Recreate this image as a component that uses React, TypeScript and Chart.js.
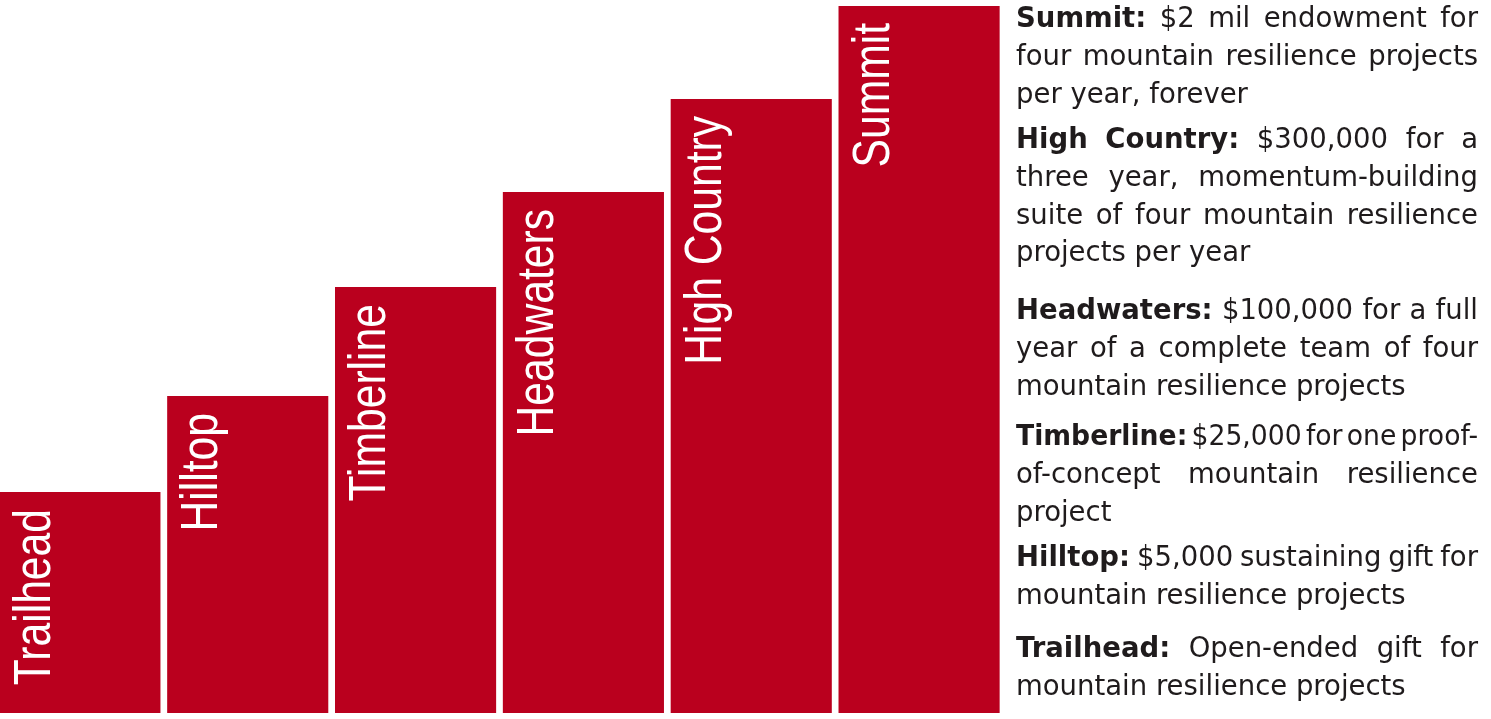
import React, { useEffect, useRef } from 'react';
import { Chart, registerables } from 'chart.js';

Chart.register(...registerables);

// ---- data ----
const tierNames = ['Trailhead', 'Hilltop', 'Timberline', 'Headwaters', 'High Country', 'Summit'];
const tierHeights = [22.1, 31.7, 42.6, 52.1, 61.4, 70.7];
const axisMax = 70.7;

const trailheadLines = ['Open-ended gift for', 'mountain resilience projects'];
const hilltopLines = ['$5,000 sustaining gift for', 'mountain resilience projects'];
const timberlineLines = ['$25,000 for one proof-', 'of-concept mountain resilience', 'project'];
const headwatersLines = ['$100,000 for a full', 'year of a complete team of four', 'mountain resilience projects'];
const highCountryLines = ['$300,000 for a', 'three year, momentum-building', 'suite of four mountain resilience', 'projects per year'];
const summitLines = ['$2 mil endowment for', 'four mountain resilience projects', 'per year, forever'];
const tierDescriptions = [trailheadLines, hilltopLines, timberlineLines, headwatersLines, highCountryLines, summitLines];

// ---- layout / style ----
const W = 1491;
const H = 719;
const BAR_COLOR = '#BA001E';
const TEXT_COLOR = '#1F1B1C';
const BAR_FONT = "52px 'Liberation Sans', Arial, sans-serif";
const BAR_FONT_SQUEEZE = 0.82;
const DESC_SIZE = 27.5;
const DESC_FAMILY = "'DejaVu Sans', 'Noto Sans', sans-serif";
const paragraphBaselines = [657, 566, 445, 319, 148, 27];
const LINE_H = 37.8;
const TEXT_LEFT = 1016;
const TEXT_RIGHT = 1478;

type Word = { text: string; bold: boolean };

function fontFor(bold: boolean) {
  return `${bold ? 'bold ' : ''}${DESC_SIZE}px ${DESC_FAMILY}`;
}

function drawLine(ctx: CanvasRenderingContext2D, words: Word[], y: number, justify: boolean) {
  const widths = words.map((w) => {
    ctx.font = fontFor(w.bold);
    return ctx.measureText(w.text).width;
  });
  ctx.font = fontFor(false);
  const space = ctx.measureText(' ').width;
  const sum = widths.reduce((a, b) => a + b, 0);
  const n = words.length;
  const avail = TEXT_RIGHT - TEXT_LEFT;
  let gap = space;
  let scale = 1;
  if (justify && n > 1) {
    gap = (avail - sum) / (n - 1);
    const minGap = space * 0.5;
    if (gap < minGap) {
      gap = minGap;
      scale = avail / (sum + gap * (n - 1));
    }
  }
  ctx.save();
  ctx.translate(TEXT_LEFT, y);
  ctx.scale(scale, 1);
  let x = 0;
  words.forEach((w, i) => {
    ctx.font = fontFor(w.bold);
    ctx.fillText(w.text, x, 0);
    x += widths[i] + gap;
  });
  ctx.restore();
}

const tierLabelPlugin = {
  id: 'tierLabels',
  afterDatasetsDraw(chart: any) {
    const ctx: CanvasRenderingContext2D = chart.ctx;
    const meta = chart.getDatasetMeta(0);
    ctx.save();
    ctx.fillStyle = '#FFFFFF';
    ctx.font = BAR_FONT;
    ctx.textAlign = 'right';
    ctx.textBaseline = 'alphabetic';
    meta.data.forEach((el: any, i: number) => {
      const p = el.getProps(['x', 'y', 'width'], true);
      const left = Math.max(p.x - p.width / 2, 0);
      ctx.save();
      ctx.translate(left + 50, p.y + 17);
      ctx.rotate(-Math.PI / 2);
      ctx.scale(BAR_FONT_SQUEEZE, 1);
      ctx.fillText(tierNames[i], 0, 0);
      ctx.restore();
    });
    ctx.restore();
  },
};

const descriptionPlugin = {
  id: 'tierDescriptions',
  afterDraw(chart: any) {
    const ctx: CanvasRenderingContext2D = chart.ctx;
    ctx.save();
    ctx.fillStyle = TEXT_COLOR;
    ctx.textAlign = 'left';
    ctx.textBaseline = 'alphabetic';
    tierNames.forEach((name, i) => {
      const lines = tierDescriptions[i];
      const base = paragraphBaselines[i];
      lines.forEach((line, li) => {
        const words: Word[] = [];
        if (li === 0) {
          `${name}:`.split(' ').forEach((t) => words.push({ text: t, bold: true }));
        }
        line.split(' ').forEach((t) => words.push({ text: t, bold: false }));
        drawLine(ctx, words, base + li * LINE_H, li < lines.length - 1);
      });
    });
    ctx.restore();
  },
};

export default function App() {
  const canvasRef = useRef<HTMLCanvasElement | null>(null);

  useEffect(() => {
    document.body.style.margin = '0';
    const canvas = canvasRef.current;
    if (!canvas) return;
    const points = tierHeights.map((v, i) => ({ x: i, y: v }));
    const chart = new Chart(canvas, {
      type: 'bar',
      data: {
        labels: tierNames,
        datasets: [
          {
            data: points,
            backgroundColor: BAR_COLOR,
            borderWidth: 0,
            barPercentage: 0.96,
            categoryPercentage: 1,
          },
        ],
      },
      options: {
        responsive: false,
        animation: false,
        layout: { padding: { left: 0, right: 488, top: 6, bottom: 6 } },
        scales: {
          x: {
            type: 'linear',
            display: false,
            offset: false,
            min: -0.476,
            max: 5.5,
            ticks: { stepSize: 1, includeBounds: false },
          },
          y: { display: false, min: 0, max: axisMax },
        },
        plugins: {
          legend: { display: false },
          tooltip: { enabled: false },
          title: { display: false },
        },
      },
      plugins: [tierLabelPlugin, descriptionPlugin],
    } as any);
    return () => chart.destroy();
  }, []);

  return (
    <div style={{ width: W, height: H, background: '#FFFFFF' }}>
      <canvas ref={canvasRef} width={W} height={H} style={{ display: 'block' }} />
    </div>
  );
}
